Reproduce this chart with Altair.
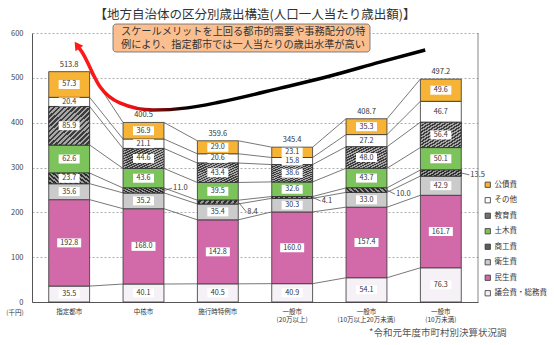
import altair as alt
import pandas as pd

FONT = "Noto Sans CJK JP"

categories = ["指定都市", "中核市", "施行時特例市", "一般市(20万以上)",
              "一般市(10万以上20万未満)", "一般市(10万未満)"]
series = ["議会費・総務費", "民生費", "衛生費", "商工費", "土木費", "教育費", "その他", "公債費"]  # bottom -> top
v_gikai = [35.5, 40.1, 40.5, 40.9, 54.1, 76.3]
v_minsei = [192.8, 168.0, 142.8, 160.0, 157.4, 161.7]
v_eisei = [35.6, 35.2, 35.4, 30.3, 33.0, 42.9]
v_shoko = [23.7, 11.0, 8.4, 4.1, 10.0, 13.5]
v_doboku = [62.6, 43.6, 39.5, 32.6, 43.7, 50.1]
v_kyoiku = [85.9, 44.6, 43.4, 38.6, 48.0, 56.4]
v_sonota = [20.4, 21.1, 20.6, 15.8, 27.2, 46.7]
v_kosai = [57.3, 36.9, 29.0, 23.1, 35.3, 49.6]
totals = [513.8, 400.5, 359.6, 345.4, 408.7, 497.2]

# decorative trend curve (x in category-index units 0..6, y in 千円)
curve_x = [0.605, 0.67, 0.915, 1.18, 1.63, 2.09, 2.53, 3.34, 4.01, 4.68, 5.29]
curve_y = [573, 558, 480, 444, 428, 433, 446, 477, 504, 535, 562]

title_text = "【地方自治体の区分別歳出構造(人口一人当たり歳出額)】"
callout = ["スケールメリットを上回る都市的需要や事務配分の特",
           "例により、指定都市では一人当たりの歳出水準が高い"]
source_note = "*令和元年度市町村別決算状況調"

all_vals = [v_gikai, v_minsei, v_eisei, v_shoko, v_doboku, v_kyoiku, v_sonota, v_kosai]
colors = {"議会費・総務費": "#f6f1f6", "民生費": "#d26aa9", "衛生費": "#cbcbcb",
          "商工費": "#5c5c5c", "土木費": "#7cc35b", "教育費": "#717171",
          "その他": "#ffffff", "公債費": "#f6b336"}
legend_order = series[::-1]

W, H = 446, 269
BW = 41  # bar width in px
BOX_HALF = 10.0  # half height of label boxes, in 千円 units (~4.5 px)


def stripes(dark, light, n=16):
    stops = []
    for k in range(n):
        a, b, c = k / n, (k + 0.5) / n, (k + 1) / n
        stops += [alt.GradientStop(offset=a, color=dark), alt.GradientStop(offset=b, color=dark),
                  alt.GradientStop(offset=b, color=light), alt.GradientStop(offset=c, color=light)]
    return alt.LinearGradient(gradient="linear", x1=0, y1=0, x2=1, y2=1, stops=stops)


rows = []
cum = [[0.0] * (len(series) + 1) for _ in categories]
for i, c in enumerate(categories):
    base = 0.0
    for j, s in enumerate(series):
        v = all_vals[j][i]
        rows.append({"cat": c, "series": s, "y0": base, "y1": base + v,
                     "mid": base + v / 2, "blo": base + v / 2 - BOX_HALF,
                     "bhi": base + v / 2 + BOX_HALF, "val": v, "label": f"{v:.1f}",
                     "inside": v >= 14, "wide": v >= 100, "ord": j})
        base += v
        cum[i][j + 1] = base
df = pd.DataFrame(rows)

conn = []
for i in range(len(categories) - 1):
    for j in range(1, len(series) + 1):
        conn.append({"c1": categories[i], "c2": categories[i + 1],
                     "ya": cum[i][j], "yb": cum[i + 1][j]})
conn_df = pd.DataFrame(conn)

# outside labels: small 商工費 segments; label vertical shift in value units
shift = {"中核市": 5, "施行時特例市": -22, "一般市(20万以上)": -8,
         "一般市(10万以上20万未満)": -9, "一般市(10万未満)": -4}
out_df = df[(df.series == "商工費") & (~df.inside)].copy()
out_df["ly"] = [r.mid + shift[r.cat] for r in out_df.itertuples()]

tot_df = pd.DataFrame({"cat": categories, "total": totals,
                       "label": [f"{t:.1f}" for t in totals]})
curve_df = pd.DataFrame({"x": curve_x, "y": curve_y})

xscale = alt.Scale(domain=categories, paddingInner=0.45, paddingOuter=0.225)
yscale = alt.Scale(domain=[0, 600])

X = alt.X("cat:N", scale=xscale, sort=categories, title=None,
          axis=alt.Axis(labelAngle=0, labelFontSize=6.5, labelFont=FONT, labelColor="#333",
                        ticks=False, domainColor="#555", labelPadding=6, labelLineHeight=8.5,
                        labelExpr="split(replace(datum.label, '(', '|('), '|')"))
Y = alt.Y("y0:Q", scale=yscale, title=None,
          axis=alt.Axis(values=[0, 100, 200, 300, 400, 500, 600], labelFontSize=7.5,
                        labelFont=FONT, labelColor="#444", ticks=False, labelPadding=9,
                        domainColor="#555", grid=True, gridColor="#999", gridDash=[2, 2],
                        gridWidth=0.8))
Xc = alt.X("cat:N", scale=xscale, sort=categories)

bars = alt.Chart(df).mark_bar(stroke="#333", strokeWidth=0.8).encode(
    x=X, y=Y, y2="y1:Q",
    color=alt.Color("series:N", scale=alt.Scale(domain=legend_order,
                                                range=[colors[s] for s in legend_order]),
                    legend=alt.Legend(title=None, orient="none", legendX=452, legendY=148,
                                      symbolType="square", symbolSize=28,
                                      symbolStrokeColor="#333", symbolStrokeWidth=0.8,
                                      labelFontSize=7.5, labelFont=FONT, labelColor="#333",
                                      rowPadding=6.5, labelOffset=3)),
)

hatch_kyoiku = alt.Chart(df).transform_filter("datum.series == '教育費'").mark_bar(
    fill=stripes("#3c3c3c", "#a8a8a8"), stroke="#333", strokeWidth=0.8).encode(
    x=Xc, y=alt.Y("y0:Q", scale=yscale), y2="y1:Q")
hatch_shoko = alt.Chart(df).transform_filter("datum.series == '商工費'").mark_bar(
    fill=stripes("#2e2e2e", "#9a9a9a"), stroke="#333", strokeWidth=0.8).encode(
    x=Xc, y=alt.Y("y0:Q", scale=yscale), y2="y1:Q")

lines = alt.Chart(conn_df).mark_rule(color="#555", strokeWidth=0.8,
                                     xOffset=BW / 2, x2Offset=-BW / 2).encode(
    x=alt.X("c1:N", scale=xscale, sort=categories),
    x2="c2:N",
    y=alt.Y("ya:Q", scale=yscale), y2="yb:Q")

box_narrow = alt.Chart(df).transform_filter("datum.inside && !datum.wide").mark_bar(
    width=21, color="white", opacity=1).encode(
    x=Xc, y=alt.Y("blo:Q", scale=yscale), y2="bhi:Q")
box_wide = alt.Chart(df).transform_filter("datum.inside && datum.wide").mark_bar(
    width=24, color="white", opacity=1).encode(
    x=Xc, y=alt.Y("blo:Q", scale=yscale), y2="bhi:Q")
txt_in = alt.Chart(df).transform_filter("datum.inside").mark_text(
    fontSize=7.2, font=FONT, color="#333").encode(
    x=Xc, y=alt.Y("mid:Q", scale=yscale), text="label:N")

leader = alt.Chart(out_df).mark_rule(color="#555", strokeWidth=0.8,
                                     xOffset=BW / 2, x2Offset=BW / 2 + 8).encode(
    x=Xc, x2="cat:N", y=alt.Y("mid:Q", scale=yscale), y2="ly:Q")
txt_out = alt.Chart(out_df).mark_text(fontSize=7.5, font=FONT, color="#333",
                                      align="left", dx=BW / 2 + 9).encode(
    x=Xc, y=alt.Y("ly:Q", scale=yscale), text="label:N")

tot_txt = alt.Chart(tot_df).mark_text(fontSize=7.5, font=FONT, color="#333", dy=-7).encode(
    x=Xc, y=alt.Y("total:Q", scale=yscale), text="label:N")

grad = alt.LinearGradient(gradient="linear", x1=0, x2=1, y1=0, y2=0,
                          stops=[alt.GradientStop(offset=0, color="#ff1a1a"),
                                 alt.GradientStop(offset=0.16, color="#ee1111"),
                                 alt.GradientStop(offset=0.32, color="#000000"),
                                 alt.GradientStop(offset=1, color="#000000")])
xq = alt.Scale(domain=[0, 6])
curve = alt.Chart(curve_df).mark_line(stroke=grad, strokeWidth=3.5, interpolate="monotone",
                                      clip=False).encode(
    x=alt.X("x:Q", scale=xq, axis=None), y=alt.Y("y:Q", scale=yscale))
head = alt.Chart(curve_df.head(1)).mark_point(shape="triangle-up", size=90, filled=True,
                                              color="#ff1a1a", opacity=1, angle=325).encode(
    x=alt.X("x:Q", scale=xq, axis=None), y=alt.Y("y:Q", scale=yscale))

one = tot_df.head(1)
right_border = alt.Chart(one).mark_rule(color="#888", strokeWidth=1).encode(
    x=alt.value(W), y=alt.value(0), y2=alt.value(H))

cbox = alt.Chart(one).mark_rect(fill="#fbbf8f", stroke="#666", strokeWidth=0.8,
                                cornerRadius=3).encode(
    x=alt.value(81), x2=alt.value(338), y=alt.value(-9), y2=alt.value(19))
ctxt1 = alt.Chart(one).mark_text(fontSize=10.2, font=FONT, color="#333", align="left",
                                 baseline="middle").encode(
    x=alt.value(89), y=alt.value(-1.5), text=alt.value(callout[0]))
ctxt2 = alt.Chart(one).mark_text(fontSize=10.2, font=FONT, color="#333", align="left",
                                 baseline="middle").encode(
    x=alt.value(89), y=alt.value(12), text=alt.value(callout[1]))

unit = alt.Chart(one).mark_text(fontSize=6.5, font=FONT, color="#333").encode(
    x=alt.value(-17), y=alt.value(280), text=alt.value("(千円)"))
src = alt.Chart(one).mark_text(fontSize=9.5, font=FONT, color="#555",
                               align="left").encode(
    x=alt.value(337), y=alt.value(300), text=alt.value(source_note))

base = alt.layer(bars, hatch_kyoiku, hatch_shoko, lines, box_narrow, box_wide, txt_in,
                 leader, txt_out, tot_txt)
top = alt.layer(curve, head)
chart = alt.layer(base, top, right_border, cbox, ctxt1, ctxt2, unit, src).resolve_scale(
    x="independent", y="shared").properties(
    width=W, height=H,
    title=alt.TitleParams(title_text, fontSize=12.5, font=FONT, color="#333",
                          anchor="middle", offset=2, fontWeight="normal"),
    padding={"left": 32, "top": 33, "right": 76, "bottom": 43},
    autosize=alt.AutoSizeParams(type="none"),
).configure_view(stroke=None)

chart.save("out.html", embed_options={"renderer": "svg", "actions": False})
